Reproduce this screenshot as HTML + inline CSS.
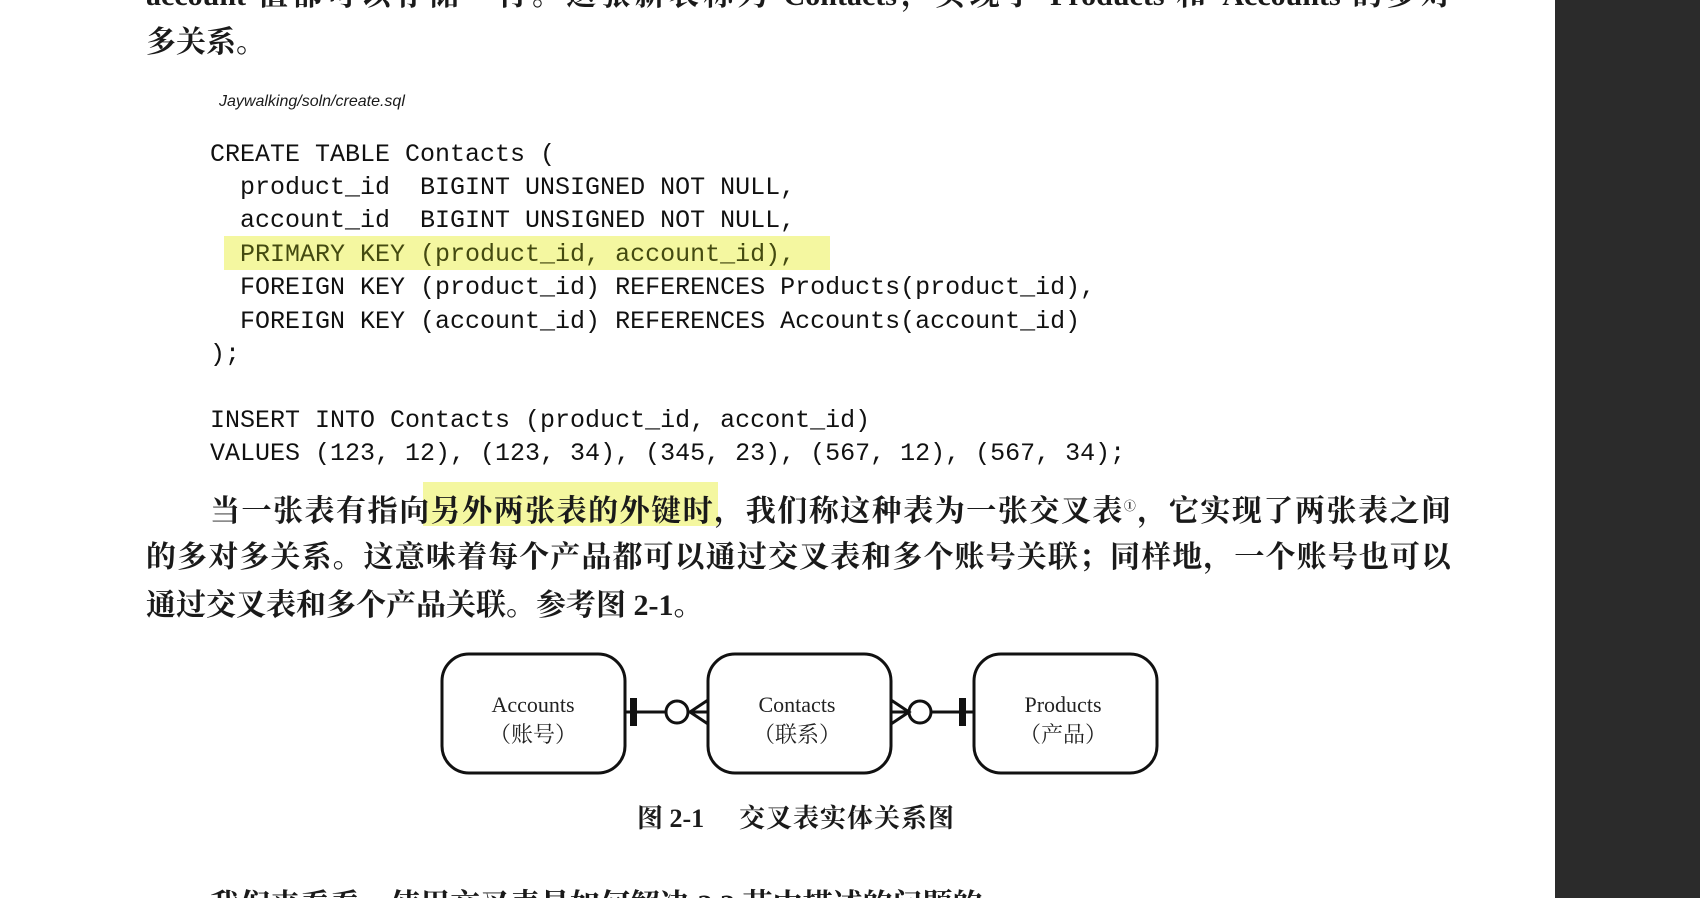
<!DOCTYPE html>
<html><head><meta charset="utf-8"><style>
html,body{margin:0;padding:0;width:1700px;height:898px;overflow:hidden;background:#fff;}
#wrap{position:relative;width:1700px;height:898px;overflow:hidden;}
.side{position:absolute;left:1555px;top:0;width:145px;height:898px;background:#2b2b2b;}
.t{position:absolute;white-space:nowrap;color:#1a1a1a;font-family:"Liberation Serif","Noto Serif CJK SC",serif;}
.cn{font-size:30px;font-weight:bold;line-height:40px;}
.code{position:absolute;left:210px;font-family:"Liberation Mono",monospace;font-size:25px;color:#111;white-space:pre;line-height:30px;}
.hl{position:absolute;background:#f4f7a0;}
.j{position:absolute;left:146px;width:1305px;text-align:justify;text-align-last:justify;}
</style></head><body><div id="wrap">
<div class="side"></div>
<div class="t cn j" style="top:-24px;">account 值都可以存储一行。这张新表称为 Contacts，实现了 Products 和 Accounts 的多对</div>
<div class="t cn" style="left:146px;top:23px;">多关系。</div>
<div class="t" style="left:219px;top:93px;font-family:'Liberation Sans',sans-serif;font-style:italic;font-size:16px;">Jaywalking/soln/create.sql</div>
<div class="hl" style="left:224px;top:236px;width:606px;height:34px;"></div>
<div class="code" style="top:140px;">CREATE TABLE Contacts (</div>
<div class="code" style="top:173px;">  product_id  BIGINT UNSIGNED NOT NULL,</div>
<div class="code" style="top:206px;">  account_id  BIGINT UNSIGNED NOT NULL,</div>
<div class="code" style="top:240px;color:#444a10;">  PRIMARY KEY (product_id, account_id),</div>
<div class="code" style="top:273px;">  FOREIGN KEY (product_id) REFERENCES Products(product_id),</div>
<div class="code" style="top:307px;">  FOREIGN KEY (account_id) REFERENCES Accounts(account_id)</div>
<div class="code" style="top:340px;">);</div>
<div class="code" style="top:406px;">INSERT INTO Contacts (product_id, accont_id)</div>
<div class="code" style="top:439px;">VALUES (123, 12), (123, 34), (345, 23), (567, 12), (567, 34);</div>
<div class="hl" style="left:423px;top:482px;width:295px;height:44px;"></div>
<div class="t cn" style="left:210px;top:486px;width:1241px;text-align:justify;text-align-last:justify;">当一张表有指向另外两张表的外键时，我们称这种表为一张交叉表<sup style="font-size:12px;">①</sup>，它实现了两张表之间</div>
<div class="t cn j" style="top:538px;">的多对多关系。这意味着每个产品都可以通过交叉表和多个账号关联；同样地，一个账号也可以</div>
<div class="t cn" style="left:146px;top:586px;">通过交叉表和多个产品关联。参考图 2-1。</div>
<svg style="position:absolute;left:0;top:0" width="1700" height="898">
<g fill="none" stroke="#111" stroke-width="3">
<rect x="442" y="654" width="183" height="119" rx="27"/>
<rect x="708" y="654" width="183" height="119" rx="27"/>
<rect x="974" y="654" width="183" height="119" rx="27"/>
<line x1="625" y1="712" x2="666" y2="712"/>
<circle cx="677" cy="712" r="11"/>
<line x1="688" y1="712" x2="708" y2="712"/>
<path d="M708 700 L690 712 L708 724"/>
<line x1="891" y1="712" x2="909" y2="712"/>
<path d="M891 700 L909 712 L891 724"/>
<circle cx="920" cy="712" r="11"/>
<line x1="931" y1="712" x2="974" y2="712"/>
</g>
<rect x="630" y="698" width="7" height="28" fill="#111"/>
<rect x="959" y="698" width="7" height="28" fill="#111"/>
<g font-family="Liberation Serif, Noto Serif CJK SC, serif" font-size="22" fill="#222" text-anchor="middle">
<text x="533" y="712">Accounts</text><text x="533" y="742">（账号）</text>
<text x="797" y="712">Contacts</text><text x="797" y="742">（联系）</text>
<text x="1063" y="712">Products</text><text x="1063" y="742">（产品）</text>
</g>
</svg>
<div class="t" style="left:637px;top:798px;font-size:26px;font-weight:bold;">图 2-1</div>
<div class="t" style="left:739px;top:798px;font-size:26px;font-weight:bold;letter-spacing:1px;">交叉表实体关系图</div>
<div class="t cn" style="left:210px;top:886px;">我们来看看，使用交叉表是如何解决 2.2 节中描述的问题的。</div>
</div></body></html>
